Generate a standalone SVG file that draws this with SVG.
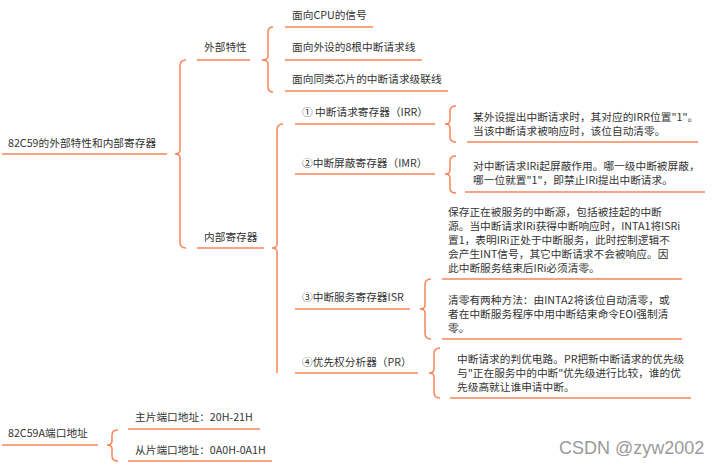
<svg xmlns="http://www.w3.org/2000/svg" width="721" height="468" viewBox="0 0 721 468">
<style>
text{font-family:"Noto Sans CJK SC","Noto Sans",sans-serif;font-size:10.7px;fill:#333}
.u{stroke:#f98457;stroke-width:1.5;fill:none}
.b{stroke:#f98457;stroke-width:1.5;fill:none}
.wm{font-family:"Liberation Sans",Arial,sans-serif;font-size:18px;fill:#9a9a9a}
</style>
<rect width="721" height="468" fill="#fff"/>
<g id="connectors">
<path class="b" d="M186,60 Q180,60 180,66 L180,150 Q180,154 175,154 Q180,154 180,158 L180,242 Q180,248 186,248"/>
<path class="b" d="M273,27 Q268,27 268,32 L268,56 Q268,60 262,60 Q268,60 268,64 L268,87 Q268,92 273,92"/>
<path class="b" d="M283,124 Q277,124 277,130 L277,244 Q277,248 272,248 Q277,248 277,252 L277,373"/>
<path class="b" d="M456,106 Q450,106 450,111 L450,120 Q450,124 445,124 Q450,124 450,128 L450,137 Q450,142 456,142"/>
<path class="b" d="M456,156 Q450,156 450,161 L450,170 Q450,174 445,174 Q450,174 450,178 L450,188 Q450,193 456,193"/>
<path class="b" d="M431,279 Q425,279 425,285 L425,305 Q425,309 420,309 Q425,309 425,313 L425,333 Q425,339 431,339"/>
<path class="b" d="M440,348 Q434,348 434,354 L434,369 Q434,373 429,373 Q434,373 434,377 L434,392 Q434,398 440,398"/>
<path class="b" d="M118,430 Q112,430 112,435 L112,441 Q112,445 107,445 Q112,445 112,449 L112,456 Q112,461 118,461"/>
</g>
<g id="root">
<text x="8" y="147">82C59的外部特性和内部寄存器</text>
<line class="u" x1="2" y1="154" x2="167" y2="154"/>
</g>
<g id="external">
<text x="204" y="51">外部特性</text>
<line class="u" x1="197" y1="60" x2="250" y2="60"/>
</g>
<g id="ext-cpu">
<text x="292" y="19">面向CPU的信号</text>
<line class="u" x1="285" y1="27" x2="373" y2="27"/>
</g>
<g id="ext-irq">
<text x="292" y="51">面向外设的8根中断请求线</text>
<line class="u" x1="285" y1="60" x2="422" y2="60"/>
</g>
<g id="ext-cascade">
<text x="292" y="83">面向同类芯片的中断请求级联线</text>
<line class="u" x1="285" y1="91" x2="448" y2="91"/>
</g>
<g id="internal">
<text x="204" y="241">内部寄存器</text>
<line class="u" x1="197" y1="248" x2="264" y2="248"/>
</g>
<g id="irr">
<text x="302" y="116">① 中断请求寄存器（IRR）</text>
<line class="u" x1="295" y1="124" x2="435" y2="124"/>
</g>
<g id="irr-desc">
<text x="473" y="121">某外设提出中断请求时，其对应的IRR位置"1"。</text>
<text x="473" y="135">当该中断请求被响应时，该位自动清零。</text>
<line class="u" x1="467" y1="142" x2="698" y2="142"/>
</g>
<g id="imr">
<text x="302" y="167">②中断屏蔽寄存器（IMR）</text>
<line class="u" x1="295" y1="174" x2="435" y2="174"/>
</g>
<g id="imr-desc">
<text x="473" y="170">对中断请求IRi起屏蔽作用。哪一级中断被屏蔽，</text>
<text x="473" y="184">哪一位就置"1"，即禁止IRi提出中断请求。</text>
<line class="u" x1="465" y1="192" x2="705" y2="192"/>
</g>
<g id="isr">
<text x="302" y="301">③中断服务寄存器ISR</text>
<line class="u" x1="295" y1="309" x2="410" y2="309"/>
</g>
<g id="isr-desc1">
<text x="448" y="216">保存正在被服务的中断源，包括被挂起的中断</text>
<text x="448" y="230">源。当中断请求IRi获得中断响应时，INTA1将ISRi</text>
<text x="448" y="244">置1，表明IRi正处于中断服务，此时控制逻辑不</text>
<text x="448" y="258">会产生INT信号，其它中断请求不会被响应。因</text>
<text x="448" y="272">此中断服务结束后IRi必须清零。</text>
<line class="u" x1="442" y1="279" x2="682" y2="279"/>
</g>
<g id="isr-desc2">
<text x="448" y="304">清零有两种方法：由INTA2将该位自动清零，或</text>
<text x="448" y="318">者在中断服务程序中用中断结束命令EOI强制清</text>
<text x="448" y="332">零。</text>
<line class="u" x1="442" y1="339" x2="682" y2="339"/>
</g>
<g id="pr">
<text x="302" y="366">④优先权分析器（PR）</text>
<line class="u" x1="295" y1="373" x2="418" y2="373"/>
</g>
<g id="pr-desc">
<text x="457" y="363">中断请求的判优电路。PR把新中断请求的优先级</text>
<text x="457" y="377">与"正在服务中的中断"优先级进行比较，谁的优</text>
<text x="457" y="391">先级高就让谁申请中断。</text>
<line class="u" x1="450" y1="398" x2="691" y2="398"/>
</g>
<g id="port">
<text x="8" y="437">82C59A端口地址</text>
<line class="u" x1="2" y1="445" x2="98" y2="445"/>
</g>
<g id="port-master">
<text x="135" y="421">主片端口地址：20H-21H</text>
<line class="u" x1="128" y1="429" x2="260" y2="429"/>
</g>
<g id="port-slave">
<text x="135" y="454">从片端口地址：0A0H-0A1H</text>
<line class="u" x1="128" y1="461" x2="272" y2="461"/>
</g>
<text class="wm" x="559" y="454">CSDN @zyw2002</text>
</svg>
